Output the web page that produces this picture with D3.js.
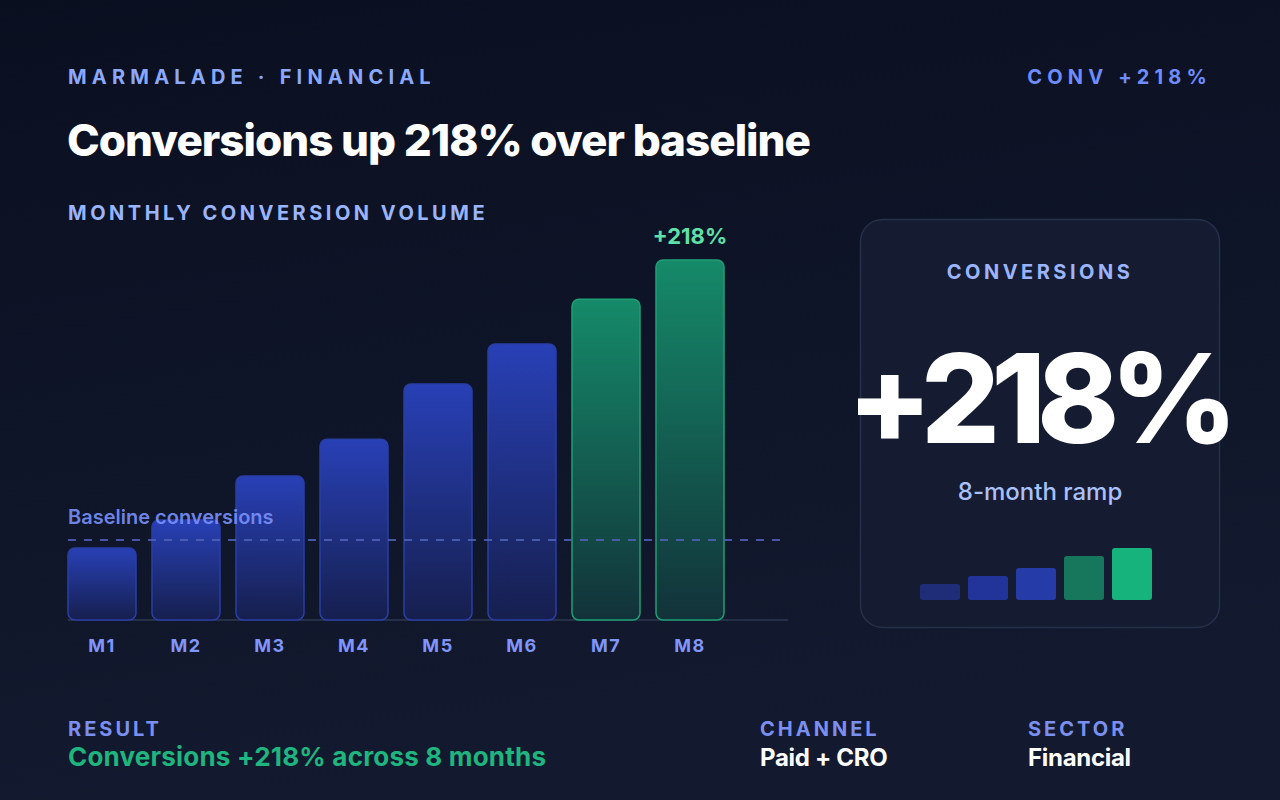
<!DOCTYPE html>
<html>
<head>
<meta charset="utf-8">
<script src="https://cdn.jsdelivr.net/npm/d3@7"></script>
<style>
  html, body { margin: 0; padding: 0; background: #0c1122; }
  svg { display: block; font-family: Inter, "Noto Sans", sans-serif; }
</style>
</head>
<body>
<div id="chart"></div>
<script>
// chart data
const months = ['M1', 'M2', 'M3', 'M4', 'M5', 'M6', 'M7', 'M8']
const conversions = [180, 250, 360, 452, 590, 690, 802, 900]
const baseline = 200
const liftMonths = ['M7', 'M8']
const rampSteps = ['a', 'b', 'c', 'd', 'e']
const rampValues = [16, 24, 32, 44, 52]
const rampColors = ['#1f2d78', '#22339a', '#253ba8', '#16775d', '#17b37c']

const W = 1280, H = 800

const svg = d3.select('#chart').append('svg')
  .attr('width', W)
  .attr('height', H)

const defs = svg.append('defs')
const bg = defs.append('linearGradient').attr('id', 'bg')
  .attr('x1', 0).attr('y1', 0).attr('x2', 0.25).attr('y2', 1)
bg.append('stop').attr('offset', '0%').attr('stop-color', '#0a0f20')
bg.append('stop').attr('offset', '100%').attr('stop-color', '#131a2f')

const blueG = defs.append('linearGradient').attr('id', 'blueBar')
  .attr('x1', 0).attr('y1', 0).attr('x2', 0).attr('y2', 1)
blueG.append('stop').attr('offset', '0%').attr('stop-color', '#2840b6')
blueG.append('stop').attr('offset', '100%').attr('stop-color', '#161f4e')

const greenG = defs.append('linearGradient').attr('id', 'greenBar')
  .attr('x1', 0).attr('y1', 0).attr('x2', 0).attr('y2', 1)
greenG.append('stop').attr('offset', '0%').attr('stop-color', '#158a69')
greenG.append('stop').attr('offset', '100%').attr('stop-color', '#123239')

svg.append('rect')
  .attr('width', W).attr('height', H)
  .attr('fill', 'url(#bg)')

// header
svg.append('text')
  .attr('x', 68).attr('y', 84)
  .attr('fill', '#8ba8ff')
  .attr('font-size', 20).attr('font-weight', 700)
  .attr('letter-spacing', 5.2)
  .text('MARMALADE · FINANCIAL')
svg.append('text')
  .attr('x', 1212).attr('y', 84)
  .attr('text-anchor', 'end')
  .attr('fill', '#6f8cff')
  .attr('font-size', 20).attr('font-weight', 700)
  .attr('letter-spacing', 5.2)
  .text('CONV +218%')
svg.append('text')
  .attr('x', 67).attr('y', 156)
  .attr('fill', '#ffffff')
  .attr('font-size', 44).attr('font-weight', 800)
  .attr('letter-spacing', -1)
  .text('Conversions up 218% over baseline')
svg.append('text')
  .attr('x', 68).attr('y', 220)
  .attr('fill', '#9ab4ff')
  .attr('font-size', 20).attr('font-weight', 700)
  .attr('letter-spacing', 3.5)
  .text('MONTHLY CONVERSION VOLUME')

// scales
const xs = d3.scaleBand()
  .domain(months)
  .range([60, 732])
  .paddingInner(16 / 84)
  .paddingOuter(8 / 84)
const ys = d3.scaleLinear()
  .domain([0, 900])
  .range([620, 260])

// axis line
svg.append('path')
  .attr('d', `M68,${ys(0)}H788`)
  .attr('stroke', '#262f48')
  .attr('stroke-width', 2)

// bars
svg.selectAll('.bar')
  .data(months)
  .enter()
  .append('rect')
  .classed('bar', true)
  .attr('x', (d) => xs(d))
  .attr('width', xs.bandwidth())
  .attr('y', (d, i) => ys(conversions[i]))
  .attr('height', (d, i) => ys(0) - ys(conversions[i]))
  .attr('rx', 7)
  .attr('fill', (d) => liftMonths.includes(d) ? 'url(#greenBar)' : 'url(#blueBar)')
  .attr('stroke', (d) => liftMonths.includes(d) ? '#1f9e74' : '#2a3ea6')
  .attr('stroke-width', 1.5)

// month labels via axis
const xAxis = svg.append('g')
  .attr('transform', `translate(0,${ys(0)})`)
  .call(d3.axisBottom(xs).tickSize(0).tickPadding(19))
xAxis.select('.domain').remove()
xAxis.selectAll('text')
  .attr('fill', '#7f95ff')
  .attr('font-size', 18).attr('font-weight', 700)
  .attr('letter-spacing', 1.5)
  .attr('font-family', 'Inter, sans-serif')

// peak label
svg.append('text')
  .attr('x', xs('M8') + xs.bandwidth() / 2)
  .attr('y', ys(conversions[7]) - 16)
  .attr('text-anchor', 'middle')
  .attr('fill', '#5ee0a6')
  .attr('font-size', 22).attr('font-weight', 700)
  .text('+218%')

// baseline
svg.append('path')
  .attr('d', `M68,${ys(baseline)}H788`)
  .attr('stroke', '#4f63b8')
  .attr('stroke-opacity', 0.85)
  .attr('stroke-width', 2)
  .attr('stroke-dasharray', '8 8')
svg.append('text')
  .attr('x', 68).attr('y', ys(baseline) - 16)
  .attr('fill', '#7b93ff')
  .attr('fill-opacity', 0.9)
  .attr('font-size', 20).attr('font-weight', 600)
  .text('Baseline conversions')

// KPI card
svg.append('rect')
  .attr('x', 860.5).attr('y', 219.5)
  .attr('width', 359).attr('height', 408)
  .attr('rx', 22)
  .attr('fill', '#151b30')
  .attr('stroke', '#263049')
  .attr('stroke-width', 1.5)
svg.append('text')
  .attr('x', 1040).attr('y', 279)
  .attr('text-anchor', 'middle')
  .attr('fill', '#9ab4ff')
  .attr('font-size', 20).attr('font-weight', 700)
  .attr('letter-spacing', 3.5)
  .text('CONVERSIONS')
svg.append('text')
  .attr('x', 1038).attr('y', 443)
  .attr('text-anchor', 'middle')
  .attr('fill', '#ffffff')
  .attr('font-size', 124).attr('font-weight', 800)
  .attr('letter-spacing', -9)
  .text('+218%')
svg.append('text')
  .attr('x', 1040).attr('y', 500)
  .attr('text-anchor', 'middle')
  .attr('fill', '#a9c1ff')
  .attr('font-size', 24).attr('font-weight', 500)
  .text('8-month ramp')

// mini ramp
const rx = d3.scaleBand()
  .domain(rampSteps)
  .range([916, 1156])
  .paddingInner(8 / 48)
  .paddingOuter(4 / 48)
const ry = d3.scaleLinear()
  .domain([0, 52])
  .range([600, 548])
svg.selectAll('.ramp')
  .data(rampSteps)
  .enter()
  .append('rect')
  .classed('ramp', true)
  .attr('x', (d) => rx(d))
  .attr('width', rx.bandwidth())
  .attr('y', (d, i) => ry(rampValues[i]))
  .attr('height', (d, i) => ry(0) - ry(rampValues[i]))
  .attr('rx', 3)
  .attr('fill', (d, i) => rampColors[i])

// footer
const footer = [
  { x: 68, label: 'RESULT', value: 'Conversions +218% across 8 months', color: '#1fb57f', size: 26 },
  { x: 760, label: 'CHANNEL', value: 'Paid + CRO', color: '#ffffff', size: 24 },
  { x: 1028, label: 'SECTOR', value: 'Financial', color: '#ffffff', size: 24 }
]
footer.forEach((f) => {
  svg.append('text')
    .attr('x', f.x).attr('y', 736)
    .attr('fill', '#7b8ff0')
    .attr('font-size', 20).attr('font-weight', 700)
    .attr('letter-spacing', 3)
    .text(f.label)
  svg.append('text')
    .attr('x', f.x).attr('y', 766)
    .attr('fill', f.color)
    .attr('font-size', f.size).attr('font-weight', 700)
    .attr('letter-spacing', f.size === 26 ? 0.2 : -0.3)
    .text(f.value)
})
</script>
</body>
</html>
